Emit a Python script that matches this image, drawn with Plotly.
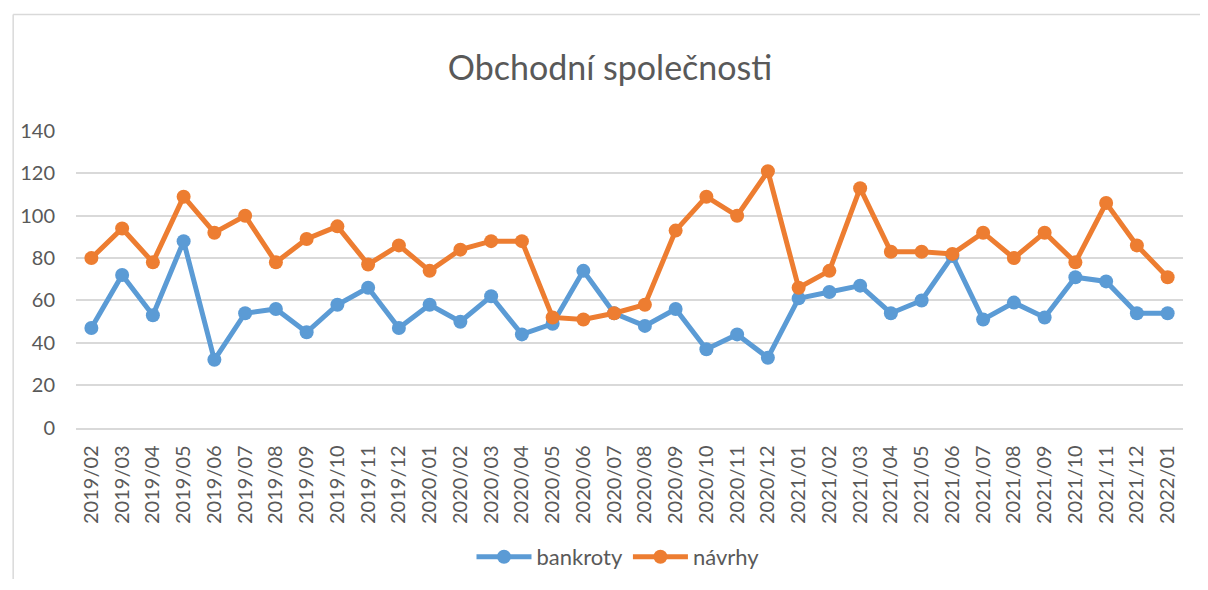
import plotly.graph_objects as go

months = ["2019/02","2019/03","2019/04","2019/05","2019/06","2019/07","2019/08","2019/09","2019/10","2019/11","2019/12",
          "2020/01","2020/02","2020/03","2020/04","2020/05","2020/06","2020/07","2020/08","2020/09","2020/10","2020/11","2020/12",
          "2021/01","2021/02","2021/03","2021/04","2021/05","2021/06","2021/07","2021/08","2021/09","2021/10","2021/11","2021/12",
          "2022/01"]
bankroty = [47,72,53,88,32,54,56,45,58,66,47,58,50,62,44,49,74,54,48,56,37,44,33,61,64,67,54,60,81,51,59,52,71,69,54,54]
navrhy = [80,94,78,109,92,100,78,89,95,77,86,74,84,88,88,52,51,54,58,93,109,100,121,66,74,113,83,83,82,92,80,92,78,106,86,71]
y_ticks = [0,20,40,60,80,100,120,140]

FONT = "Lato"
TXT = "#595959"
GRID = "#d9d9d9"

fig = go.Figure()
fig.add_trace(go.Scatter(x=months, y=bankroty, name="bankroty", mode="lines+markers",
                         line=dict(color="#5B9BD5", width=5),
                         marker=dict(color="#5B9BD5", size=14)))
fig.add_trace(go.Scatter(x=months, y=navrhy, name="návrhy", mode="lines+markers",
                         line=dict(color="#ED7D31", width=5),
                         marker=dict(color="#ED7D31", size=14)))

# page has an 8px body margin, so figure coords = page coords - 8;
# figure is sized so that it ends exactly at the window edges
OFF = 8
W, H = 1200, 574
L, T = 73 - OFF, 131 - OFF
R = W - (1183 - OFF)
B = H - (429 - OFF)
pw = W - L - R
ph = H - T - B

bx = (10 - OFF - L) / pw          # left border (paper)
by = (H - B - (14 - OFF)) / ph    # top border (paper)
x_end = (W - 1 - L) / pw          # stay inside the figure
y_end = (1 - B) / ph

fig.update_layout(
    width=W, height=H,
    margin=dict(l=L, r=R, t=T, b=B),
    paper_bgcolor="white", plot_bgcolor="white",
    font=dict(family=FONT, color=TXT, size=20),
    title=dict(text="Obchodní společnosti", x=(610 - OFF)/W, xref="container", xanchor="center",
               y=1-(68 - OFF)/H, yref="container", yanchor="middle",
               font=dict(family=FONT, size=34, color=TXT)),
    showlegend=True,
    legend=dict(orientation="h", x=(618 - OFF)/W, xref="container", xanchor="center",
                y=1-(557 - OFF)/H, yref="container", yanchor="middle",
                font=dict(family=FONT, size=22, color=TXT), itemwidth=55,
                bgcolor="rgba(0,0,0,0)"),
    xaxis=dict(type="category", tickangle=-90, showgrid=False, showline=True, linecolor=GRID,
               linewidth=1.5, ticks="", ticklabelstandoff=8,
               tickfont=dict(family=FONT, size=20, color=TXT),
               range=[-0.5, len(months)-0.5], fixedrange=True),
    yaxis=dict(range=[0, 140], tickvals=y_ticks, showgrid=True, gridcolor=GRID, gridwidth=1.5,
               zeroline=False, showline=False, ticks="", ticklabelstandoff=20,
               tickfont=dict(family=FONT, size=20, color=TXT), fixedrange=True),
    shapes=[
        dict(type="line", xref="paper", yref="paper", x0=bx, x1=bx, y0=by, y1=y_end,
             line=dict(color=GRID, width=1.5), layer="below"),
        dict(type="line", xref="paper", yref="paper", x0=bx, x1=x_end, y0=by, y1=by,
             line=dict(color=GRID, width=1.5), layer="below"),
    ],
)

fig.write_html("out.html")
